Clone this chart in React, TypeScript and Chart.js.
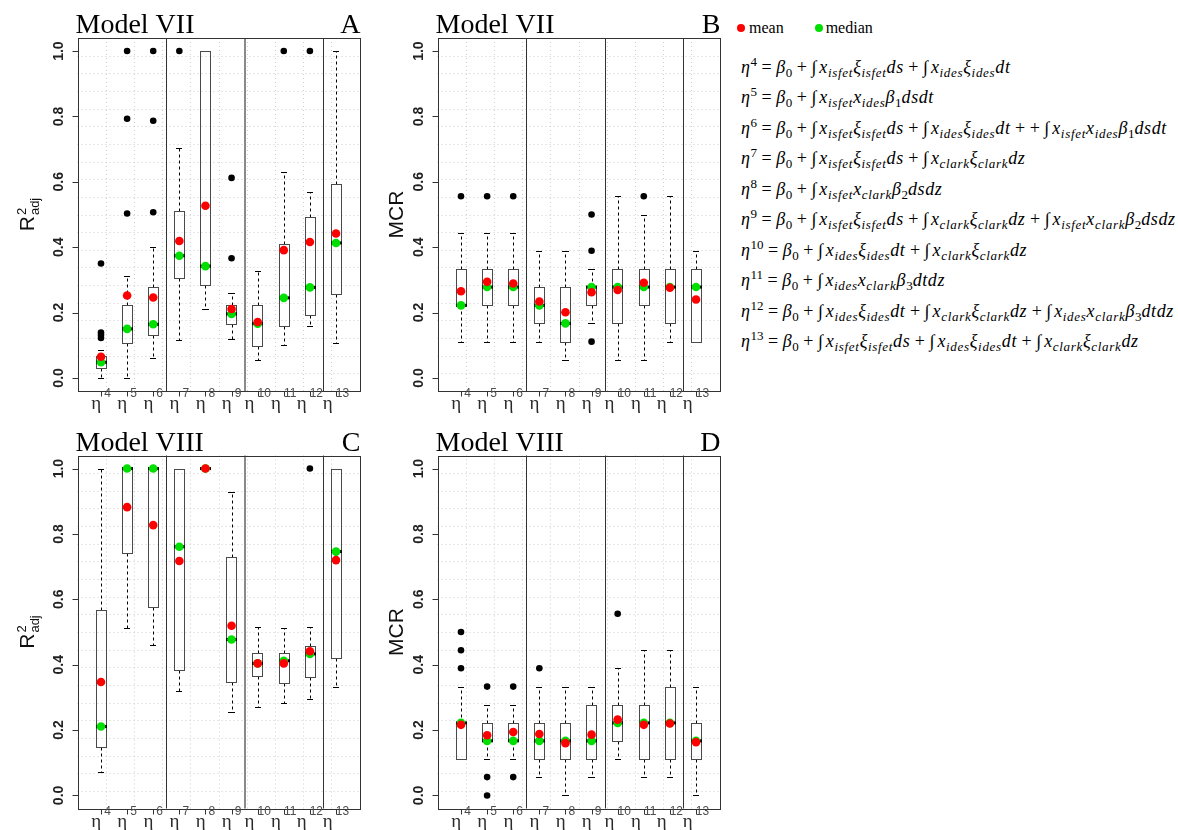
import React, { useEffect, useRef } from 'react';
import { Chart, registerables } from 'chart.js';
Chart.register(...registerables);

// ---------- shared axis data ----------
const categories = [1, 2, 3, 4, 5, 6, 7, 8, 9, 10];
const tickSup = ['4', '5', '6', '7', '8', '9', '10', '11', '12', '13'];
const yTickValues = [0, 0.2, 0.4, 0.6, 0.8, 1.0];
const yTickLabels = ['0.0', '0.2', '0.4', '0.6', '0.8', '1.0'];
const groupBreaks = [3.5, 6.5, 9.5];

// ---------- Panel A : Model VII, R2adj ----------
const aQ1 = [0.031, 0.108, 0.132, 0.305, 0.285, 0.164, 0.097, 0.158, 0.194, 0.258];
const aMed = [0.048, 0.150, 0.164, 0.374, 0.342, 0.196, 0.166, 0.245, 0.277, 0.413];
const aQ3 = [0.067, 0.223, 0.278, 0.511, 1.000, 0.222, 0.222, 0.411, 0.491, 0.592];
const aLo = [0.000, 0.000, 0.061, 0.115, 0.210, 0.118, 0.054, 0.100, 0.158, 0.108];
const aHi = [0.085, 0.313, 0.401, 0.702, 1.000, 0.260, 0.328, 0.629, 0.569, 1.000];
const aMean = [0.065, 0.252, 0.246, 0.419, 0.527, 0.211, 0.171, 0.391, 0.416, 0.442];
const aOut = [[0.122, 0.131, 0.139, 0.350], [0.503, 0.793, 1.0], [0.507, 0.787, 1.0], [1.0], [], [0.366, 0.612], [], [1.0], [1.0], []];

// ---------- Panel B : Model VII, MCR ----------
const bQ1 = [0.222, 0.222, 0.222, 0.167, 0.111, 0.222, 0.167, 0.222, 0.167, 0.111];
const bMed = [0.222, 0.278, 0.278, 0.222, 0.167, 0.278, 0.278, 0.278, 0.278, 0.278];
const bQ3 = [0.333, 0.333, 0.333, 0.278, 0.278, 0.278, 0.333, 0.333, 0.333, 0.333];
const bLo = [0.111, 0.111, 0.111, 0.111, 0.056, 0.167, 0.056, 0.056, 0.111, 0.111];
const bHi = [0.444, 0.444, 0.444, 0.389, 0.389, 0.333, 0.556, 0.500, 0.556, 0.389];
const bMean = [0.265, 0.294, 0.289, 0.234, 0.201, 0.262, 0.269, 0.291, 0.276, 0.240];
const bOut = [[0.556], [0.556], [0.556], [], [], [0.111, 0.389, 0.5], [], [0.556], [], []];

// ---------- Panel C : Model VIII, R2adj ----------
const cQ1 = [0.148, 0.742, 0.575, 0.384, 1.0, 0.346, 0.364, 0.345, 0.362, 0.420];
const cMed = [0.211, 1.0, 1.0, 0.761, 1.0, 0.477, 0.404, 0.412, 0.433, 0.746];
const cQ3 = [0.566, 1.0, 1.0, 1.0, 1.0, 0.730, 0.435, 0.437, 0.456, 1.0];
const cLo = [0.071, 0.513, 0.459, 0.318, 1.0, 0.255, 0.270, 0.282, 0.294, 0.331];
const cHi = [1.0, 1.0, 1.0, 1.0, 1.0, 0.928, 0.514, 0.511, 0.514, 1.0];
const cMean = [0.347, 0.882, 0.827, 0.717, 1.0, 0.519, 0.404, 0.404, 0.441, 0.720];
const cOut = [[], [], [], [], [], [], [], [], [1.0], []];

// ---------- Panel D : Model VIII, MCR ----------
const dQ1 = [0.111, 0.167, 0.167, 0.111, 0.111, 0.111, 0.167, 0.111, 0.111, 0.111];
const dMed = [0.222, 0.167, 0.167, 0.167, 0.167, 0.167, 0.222, 0.222, 0.222, 0.167];
const dQ3 = [0.222, 0.222, 0.222, 0.222, 0.222, 0.278, 0.278, 0.278, 0.333, 0.222];
const dLo = [0.111, 0.111, 0.111, 0.056, 0.000, 0.056, 0.111, 0.056, 0.056, 0.000];
const dHi = [0.333, 0.278, 0.278, 0.333, 0.333, 0.333, 0.389, 0.444, 0.444, 0.333];
const dMean = [0.216, 0.184, 0.194, 0.188, 0.160, 0.186, 0.232, 0.216, 0.220, 0.163];
const dOut = [[0.389, 0.444, 0.5], [0.0, 0.056, 0.333], [0.056, 0.333], [0.389], [], [], [0.556], [], [], []];

// ---------- legend / equations text ----------
const legendLabels = ['mean', 'median'];
const equations = [
  'η^{4} = β_{0} + ∫x_{isfet}ξ_{isfet}ds + ∫x_{ides}ξ_{ides}dt',
  'η^{5} = β_{0} + ∫x_{isfet}x_{ides}β_{1}dsdt',
  'η^{6} = β_{0} + ∫x_{isfet}ξ_{isfet}ds + ∫x_{ides}ξ_{ides}dt + + ∫x_{isfet}x_{ides}β_{1}dsdt',
  'η^{7} = β_{0} + ∫x_{isfet}ξ_{isfet}ds + ∫x_{clark}ξ_{clark}dz',
  'η^{8} = β_{0} + ∫x_{isfet}x_{clark}β_{2}dsdz',
  'η^{9} = β_{0} + ∫x_{isfet}ξ_{isfet}ds + ∫x_{clark}ξ_{clark}dz + ∫x_{isfet}x_{clark}β_{2}dsdz',
  'η^{10} = β_{0} + ∫x_{ides}ξ_{ides}dt + ∫x_{clark}ξ_{clark}dz',
  'η^{11} = β_{0} + ∫x_{ides}x_{clark}β_{3}dtdz',
  'η^{12} = β_{0} + ∫x_{ides}ξ_{ides}dt + ∫x_{clark}ξ_{clark}dz + ∫x_{ides}x_{clark}β_{3}dtdz',
  'η^{13} = β_{0} + ∫x_{isfet}ξ_{isfet}ds + ∫x_{ides}ξ_{ides}dt + ∫x_{clark}ξ_{clark}dz',
];

const MEAN_COLOR = '#ff0000';
const MEDIAN_COLOR = '#00e000';

type Box = { q1: number[]; med: number[]; q3: number[]; lo: number[]; hi: number[]; mean: number[]; out: number[][] };
type Rect = { l: number; t: number; w: number; h: number };
type Frame = { l: number; t: number; r: number; b: number };
type PanelCfg = { title: string; letter: string; yTitle: 'r2' | 'mcr'; canvas: Rect; frame: Frame; greyBreak: boolean; data: Box };

const panels: PanelCfg[] = [
  {
    title: 'Model VII', letter: 'A', yTitle: 'r2', greyBreak: true,
    canvas: { l: 0, t: 0, w: 365, h: 415 }, frame: { l: 77.5, t: 38, r: 359.5, b: 391 },
    data: { q1: aQ1, med: aMed, q3: aQ3, lo: aLo, hi: aHi, mean: aMean, out: aOut },
  },
  {
    title: 'Model VII', letter: 'B', yTitle: 'mcr', greyBreak: false,
    canvas: { l: 365, t: 0, w: 365, h: 415 }, frame: { l: 437.5, t: 38, r: 719.5, b: 391 },
    data: { q1: bQ1, med: bMed, q3: bQ3, lo: bLo, hi: bHi, mean: bMean, out: bOut },
  },
  {
    title: 'Model VIII', letter: 'C', yTitle: 'r2', greyBreak: true,
    canvas: { l: 0, t: 415, w: 365, h: 415 }, frame: { l: 77.5, t: 455.5, r: 359.5, b: 808.5 },
    data: { q1: cQ1, med: cMed, q3: cQ3, lo: cLo, hi: cHi, mean: cMean, out: cOut },
  },
  {
    title: 'Model VIII', letter: 'D', yTitle: 'mcr', greyBreak: false,
    canvas: { l: 365, t: 415, w: 365, h: 415 }, frame: { l: 437.5, t: 455.5, r: 719.5, b: 808.5 },
    data: { q1: dQ1, med: dMed, q3: dQ3, lo: dLo, hi: dHi, mean: dMean, out: dOut },
  },
];

const SANS = '"Liberation Sans", Arial, sans-serif';
const SERIF = '"Liberation Serif", "Times New Roman", serif';

function makePlugin(p: PanelCfg) {
  const d = p.data;
  return {
    id: 'boxplotPanel' + p.letter,
    beforeDatasetsDraw(chart: any) {
      const { ctx, chartArea: ca } = chart;
      const x = chart.scales.x;
      const y = chart.scales.y;
      ctx.save();
      // dotted grid
      ctx.strokeStyle = '#cdcdcd';
      ctx.lineWidth = 1;
      ctx.setLineDash([1, 3]);
      ctx.beginPath();
      for (let k = 1; k < 10; k++) {
        const v = x.min + (k * (x.max - x.min)) / 10;
        const px = Math.round(x.getPixelForValue(v)) + 0.5;
        ctx.moveTo(px, ca.top);
        ctx.lineTo(px, ca.bottom);
      }
      for (let k = 1; k < 20; k++) {
        const v = y.min + (k * (y.max - y.min)) / 20;
        const py = Math.round(y.getPixelForValue(v)) + 0.5;
        ctx.moveTo(ca.left, py);
        ctx.lineTo(ca.right, py);
      }
      ctx.stroke();
      ctx.setLineDash([]);
      // group separators
      groupBreaks.forEach((b) => {
        const grey = p.greyBreak && b === 6.5;
        const px = grey ? Math.round(x.getPixelForValue(b)) : Math.round(x.getPixelForValue(b)) + 0.5;
        ctx.strokeStyle = grey ? '#8a8a8a' : '#333333';
        ctx.lineWidth = grey ? 2 : 1;
        ctx.beginPath();
        ctx.moveTo(px, ca.top);
        ctx.lineTo(px, ca.bottom);
        ctx.stroke();
      });
      // boxes
      categories.forEach((c, i) => {
        const cx = x.getPixelForValue(c);
        const xm = Math.round(cx) + 0.5;
        const hw = x.getPixelForValue(c + 0.2) - cx;
        const cw = x.getPixelForValue(c + 0.12) - cx;
        const yq1 = Math.round(y.getPixelForValue(d.q1[i])) + 0.5;
        const yq3 = Math.round(y.getPixelForValue(d.q3[i])) + 0.5;
        const yhi = Math.round(y.getPixelForValue(d.hi[i])) + 0.5;
        const ylo = Math.round(y.getPixelForValue(d.lo[i])) + 0.5;
        const ymed = y.getPixelForValue(d.med[i]);
        ctx.strokeStyle = '#000';
        ctx.lineWidth = 1;
        ctx.setLineDash([3, 3]);
        ctx.beginPath();
        if (d.hi[i] > d.q3[i]) {
          ctx.moveTo(xm, yq3);
          ctx.lineTo(xm, yhi);
        }
        if (d.lo[i] < d.q1[i]) {
          ctx.moveTo(xm, yq1);
          ctx.lineTo(xm, ylo);
        }
        ctx.stroke();
        ctx.setLineDash([]);
        ctx.beginPath();
        if (d.hi[i] > d.q3[i]) {
          ctx.moveTo(Math.round(cx - cw), yhi);
          ctx.lineTo(Math.round(cx + cw), yhi);
        }
        if (d.lo[i] < d.q1[i]) {
          ctx.moveTo(Math.round(cx - cw), ylo);
          ctx.lineTo(Math.round(cx + cw), ylo);
        }
        ctx.stroke();
        ctx.strokeStyle = '#4a4a4a';
        const bx = Math.round(cx - hw) + 0.5;
        const bw = Math.round(2 * hw);
        ctx.strokeRect(bx, yq3, bw, yq1 - yq3);
        ctx.strokeStyle = '#000';
        ctx.lineWidth = 3;
        ctx.beginPath();
        ctx.moveTo(bx - 0.5, ymed);
        ctx.lineTo(bx + bw + 0.5, ymed);
        ctx.stroke();
      });
      ctx.restore();
    },
    afterDraw(chart: any) {
      const { ctx, chartArea: ca } = chart;
      const x = chart.scales.x;
      const y = chart.scales.y;
      ctx.save();
      // frame
      ctx.strokeStyle = '#333';
      ctx.lineWidth = 1;
      ctx.strokeRect(Math.round(ca.left) + 0.5, Math.round(ca.top) + 0.5, Math.round(ca.right - ca.left), Math.round(ca.bottom - ca.top));
      const bottom = Math.round(ca.bottom) + 0.5;
      const left = Math.round(ca.left) + 0.5;
      // x ticks + labels
      ctx.beginPath();
      categories.forEach((c) => {
        const px = Math.round(x.getPixelForValue(c)) + 0.5;
        ctx.moveTo(px, bottom);
        ctx.lineTo(px, bottom + 5);
      });
      ctx.stroke();
      categories.forEach((c, i) => {
        const px = x.getPixelForValue(c);
        ctx.font = '19px ' + SERIF;
        const wEta = ctx.measureText('η').width;
        ctx.font = '12px ' + SANS;
        const wSup = ctx.measureText(tickSup[i]).width;
        const start = px - (wEta + 3 + wSup) / 2;
        ctx.textAlign = 'left';
        ctx.textBaseline = 'alphabetic';
        ctx.fillStyle = '#2a2a2a';
        ctx.font = '19px ' + SERIF;
        ctx.fillText('η', start, bottom + 17);
        ctx.fillStyle = '#4d4d4d';
        ctx.font = '12px ' + SANS;
        ctx.fillText(tickSup[i], start + wEta + 3, bottom + 5.5);
      });
      // y ticks + labels
      ctx.strokeStyle = '#333';
      ctx.beginPath();
      yTickValues.forEach((v) => {
        const py = Math.round(y.getPixelForValue(v)) + 0.5;
        ctx.moveTo(left - 6, py);
        ctx.lineTo(left, py);
      });
      ctx.stroke();
      ctx.fillStyle = '#222';
      ctx.font = 'bold 14px ' + SANS;
      ctx.textAlign = 'center';
      yTickValues.forEach((v, i) => {
        const py = y.getPixelForValue(v);
        ctx.save();
        ctx.translate(left - 21, py);
        ctx.rotate(-Math.PI / 2);
        ctx.fillText(yTickLabels[i], 0, 5);
        ctx.restore();
      });
      // y title
      const cy = (ca.top + ca.bottom) / 2;
      ctx.fillStyle = '#111';
      if (p.yTitle === 'mcr') {
        ctx.save();
        ctx.translate(left - 43, cy);
        ctx.rotate(-Math.PI / 2);
        ctx.font = '21px ' + SANS;
        ctx.textAlign = 'center';
        ctx.fillText('MCR', 0, 7.5);
        ctx.restore();
      } else {
        ctx.save();
        ctx.translate(left - 52.5, cy);
        ctx.rotate(-Math.PI / 2);
        ctx.font = '21px ' + SANS;
        const wR = ctx.measureText('R').width;
        ctx.font = '13px ' + SANS;
        const wAdj = ctx.measureText('adj').width;
        const total = wR + 1 + wAdj;
        const s = -total / 2;
        ctx.textAlign = 'left';
        ctx.font = '21px ' + SANS;
        ctx.fillText('R', s, 7.5);
        ctx.font = '13px ' + SANS;
        ctx.fillText('2', s + wR + 1, 0);
        ctx.fillText('adj', s + wR + 1, 12.5);
        ctx.restore();
      }
      // titles
      ctx.fillStyle = '#000';
      ctx.font = '28px ' + SERIF;
      ctx.textAlign = 'left';
      ctx.fillText(p.title, ca.left - 2, ca.top - 5);
      ctx.textAlign = 'right';
      ctx.fillText(p.letter, ca.right + 1, ca.top - 5);
      ctx.restore();
    },
  };
}

function Panel({ p }: { p: PanelCfg }) {
  const ref = useRef<HTMLCanvasElement>(null);
  useEffect(() => {
    const canvas = ref.current;
    if (!canvas) return;
    const d = p.data;
    const chart = new Chart(canvas, {
      type: 'scatter',
      data: {
        datasets: [
          {
            label: legendLabels[0],
            data: categories.map((c, i) => ({ x: c, y: d.mean[i] })),
            backgroundColor: MEAN_COLOR,
            borderWidth: 0,
            pointRadius: 4.3,
          },
          {
            label: legendLabels[1],
            data: categories.map((c, i) => ({ x: c, y: d.med[i] })),
            backgroundColor: MEDIAN_COLOR,
            borderWidth: 0,
            pointRadius: 4.3,
          },
          {
            label: 'outliers',
            data: categories.flatMap((c, i) => d.out[i].map((v) => ({ x: c, y: v }))),
            backgroundColor: '#000',
            borderWidth: 0,
            pointRadius: 3.3,
          },
        ],
      },
      options: {
        responsive: false,
        animation: false,
        events: [],
        layout: {
          padding: {
            left: p.frame.l - p.canvas.l,
            top: p.frame.t - p.canvas.t,
            right: p.canvas.l + p.canvas.w - p.frame.r,
            bottom: p.canvas.t + p.canvas.h - p.frame.b,
          },
        },
        scales: {
          x: { type: 'linear', display: false, min: 0.1, max: 10.9 },
          y: { type: 'linear', display: false, min: -0.04, max: 1.04 },
        },
        plugins: { legend: { display: false }, tooltip: { enabled: false } },
      },
      plugins: [makePlugin(p)],
    } as any);
    return () => chart.destroy();
  }, [p]);
  return (
    <canvas
      ref={ref}
      width={p.canvas.w}
      height={p.canvas.h}
      style={{ position: 'absolute', left: p.canvas.l, top: p.canvas.t, width: p.canvas.w, height: p.canvas.h }}
    />
  );
}

function renderEquation(s: string) {
  const out: React.ReactNode[] = [];
  let i = 0;
  let buf = '';
  let key = 0;
  const flush = () => {
    if (!buf) return;
    const runs = buf.match(/([A-Za-zα-ω]+|[^A-Za-zα-ω]+)/g) || [];
    runs.forEach((r) => {
      const italic = /[A-Za-zα-ω]/.test(r);
      const style: React.CSSProperties = { fontStyle: italic ? 'italic' : 'normal', whiteSpace: 'pre' };
      if (italic) style.letterSpacing = '0.6px';
      if (r.includes('∫')) style.paddingRight = 3;
      out.push(
        <span key={key++} style={style}>
          {r.replace(/ /g, '\u2005')}
        </span>
      );
    });
    buf = '';
  };
  while (i < s.length) {
    if ((s[i] === '^' || s[i] === '_') && s[i + 1] === '{') {
      flush();
      const end = s.indexOf('}', i);
      const inner = s.slice(i + 2, end);
      const sup = s[i] === '^';
      out.push(
        <span
          key={key++}
          style={{
            fontSize: 13,
            position: 'relative',
            top: sup ? -7 : 4,
            letterSpacing: /^\d+$/.test(inner) ? '0px' : '0.7px',
            fontStyle: /^\d+$/.test(inner) ? 'normal' : 'italic',
          }}
        >
          {inner}
        </span>
      );
      i = end + 1;
    } else {
      buf += s[i];
      i++;
    }
  }
  flush();
  return out;
}

export default function App() {
  return (
    <div style={{ position: 'absolute', left: 0, top: 0, width: 1178, height: 830, background: '#fff', overflow: 'hidden' }}>
      {panels.map((p) => (
        <Panel key={p.letter} p={p} />
      ))}
      {/* legend */}
      <div style={{ position: 'absolute', left: 737, top: 18, fontFamily: SERIF, fontSize: 16, lineHeight: '20px', whiteSpace: 'nowrap' }}>
        <span style={{ display: 'inline-block', width: 8, height: 8, borderRadius: 4, background: MEAN_COLOR, marginRight: 4, verticalAlign: 1 }} />
        <span>{legendLabels[0]}</span>
        <span style={{ display: 'inline-block', width: 31 }} />
        <span style={{ display: 'inline-block', width: 8, height: 8, borderRadius: 4, background: MEDIAN_COLOR, marginRight: 3, verticalAlign: 1 }} />
        <span>{legendLabels[1]}</span>
      </div>
      {/* equations */}
      {equations.map((e, i) => (
        <div
          key={i}
          style={{
            position: 'absolute',
            left: 741,
            top: 56.5 + 30.5 * i,
            fontFamily: SERIF,
            fontSize: 18,
            lineHeight: '20px',
            whiteSpace: 'nowrap',
            color: '#000',
          }}
        >
          {renderEquation(e)}
        </div>
      ))}
    </div>
  );
}
